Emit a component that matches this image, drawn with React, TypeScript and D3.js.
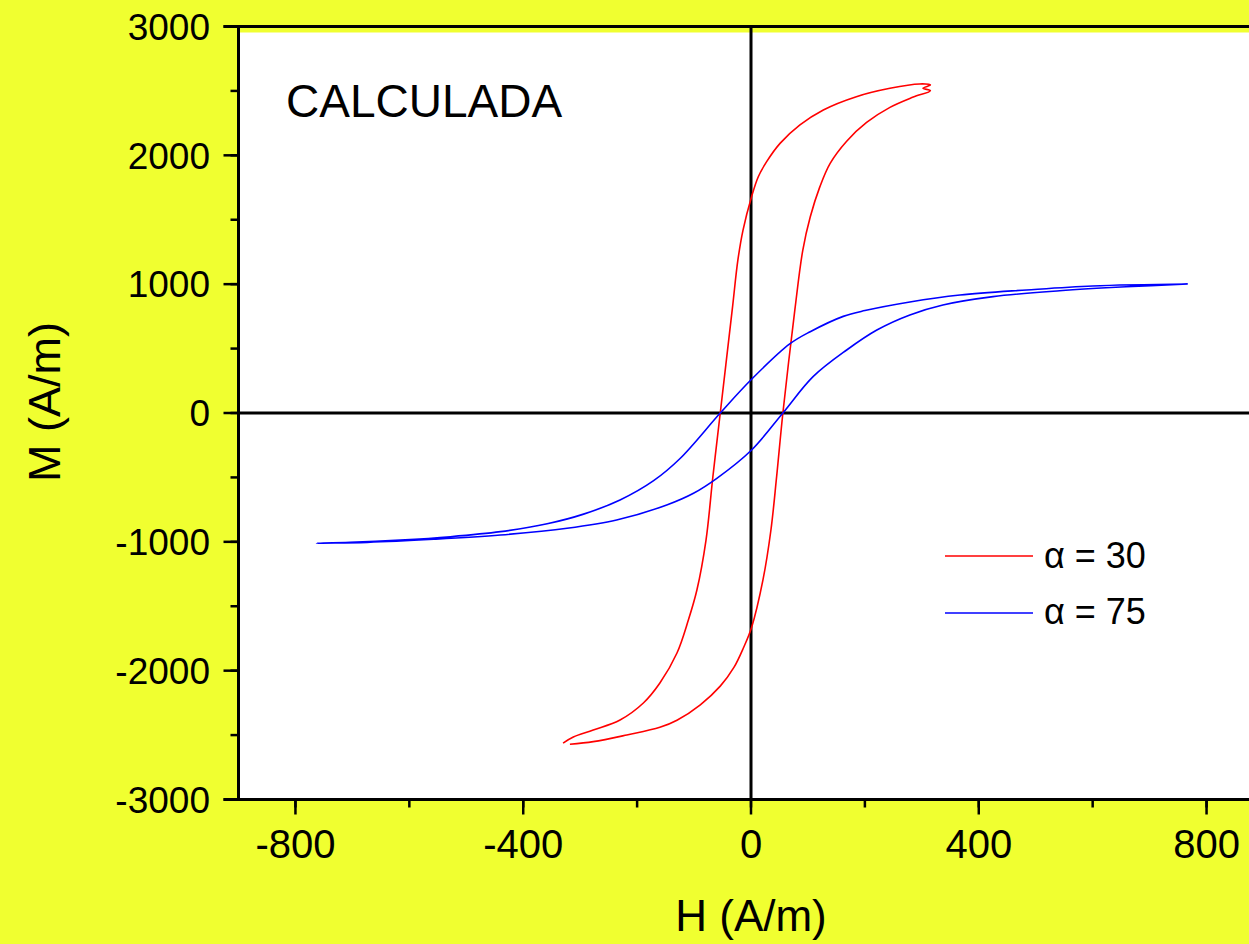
import React from "react";
import * as d3 from "d3";

// Field axis (H) and magnetisation axis (M) tick values
const hTicks = [-800, -400, 0, 400, 800];
const hMinorTicks = [-800, -600, -400, -200, 0, 200, 400, 600, 800];
const mTicks = [3000, 2000, 1000, 0, -1000, -2000, -3000];
const mMinorTicks = [-3000, -2500, -2000, -1500, -1000, -500, 0, 500, 1000, 1500, 2000, 2500, 3000];

// Hysteresis loop, alpha = 30: descending branch (from +Hmax to -Hmax)
const red30Descending: [number, number][] = [
  [302, 2521], [315, 2546], [296, 2554], [244, 2520], [185, 2455], [127, 2352], [86, 2236],
  [51, 2093], [27.5, 1951], [12.8, 1834], [1, 1679], [-14, 1420], [-23, 1188],
  [-33, 800], [-54, 0], [-67, -497], [-79, -986], [-95, -1374],
  [-110, -1607], [-130, -1863], [-160, -2096], [-189, -2251], [-230, -2383],
  [-277, -2461], [-312, -2515], [-330, -2562],
];
// alpha = 30: ascending branch (from -Hmax to +Hmax)
const red30Ascending: [number, number][] = [
  [-318, -2571], [-277, -2551], [-218, -2499], [-160, -2440], [-130, -2385], [-89, -2265],
  [-54, -2120], [-30, -1975], [-13, -1820], [1, -1665], [21, -1296], [35, -908],
  [45, -494], [56, 0], [77, 800], [91, 1265], [104, 1521],
  [121, 1757], [139, 1938], [168, 2110], [203, 2255], [244, 2372], [285, 2452], [315, 2502],
];

// Hysteresis loop, alpha = 75
const blue75Descending: [number, number][] = [
  [767, 1001], [600, 986], [484, 955], [367, 916], [279, 862], [200, 795], [162, 750],
  [104, 631], [68, 536], [1, 262], [-54, 0], [-125, -355], [-171, -525], [-230, -675],
  [-294, -785], [-358, -860], [-440, -921], [-528, -960], [-616, -986], [-704, -1004],
  [-763, -1011],
];
const blue75Ascending: [number, number][] = [
  [-763, -1011], [-674, -1004], [-557, -980], [-440, -947], [-323, -895], [-236, -831],
  [-148, -714], [-101, -623], [-60, -507], [1, -287], [56, 0], [109, 282], [168, 489],
  [221, 644], [279, 761], [337, 838], [425, 903], [542, 949], [659, 980], [767, 1001],
];

const seriesLabels = ["\u03b1 = 30", "\u03b1 = 75"];
const seriesColors = ["#ff0000", "#0000ff"];

const W = 1249;
const H = 944;
const FONT = "'Liberation Sans', Arial, Helvetica, sans-serif";

export default function App() {
  const x = d3.scaleLinear().domain([-900, 900]).range([238.5, 1263.5]);
  const y = d3.scaleLinear().domain([-3000, 3000]).range([799.5, 26.5]);

  const line = d3
    .line<[number, number]>()
    .x((d) => x(d[0]))
    .y((d) => y(d[1]))
    .curve(d3.curveCatmullRom.alpha(0.5));

  const redLoop = [...red30Ascending, ...red30Descending];
  const blueLoop = [...blue75Descending, ...blue75Ascending.slice(1)];

  const left = x(-900);
  const right = x(900);
  const top = y(3000);
  const bottom = y(-3000);

  return (
    <svg
      width={W}
      height={H}
      style={{ position: "absolute", left: 0, top: 0, display: "block" }}
      fontFamily={FONT}
    >
      <rect x={0} y={0} width={W} height={H} fill="#f0ff30" />
      <rect x={left} y={top + 6} width={right - left} height={bottom - top - 6} fill="#ffffff" />

      {/* zero lines */}
      <line x1={x(0)} x2={x(0)} y1={top} y2={bottom} stroke="#000" strokeWidth={3} />
      <line x1={left} x2={right} y1={y(0)} y2={y(0)} stroke="#000" strokeWidth={3} />

      {/* curves */}
      <path d={line(redLoop) ?? ""} fill="none" stroke={seriesColors[0]} strokeWidth={1.6} />
      <path d={line(blueLoop) ?? ""} fill="none" stroke={seriesColors[1]} strokeWidth={1.6} />

      {/* frame */}
      <line x1={left - 15} x2={right} y1={top} y2={top} stroke="#000" strokeWidth={3} />
      <line x1={left - 15} x2={right} y1={bottom} y2={bottom} stroke="#000" strokeWidth={3} />
      <line x1={left} x2={left} y1={top} y2={bottom} stroke="#000" strokeWidth={3} />

      {/* y ticks */}
      {mMinorTicks.map((t) => (
        <line key={"ym" + t} x1={left - 8} x2={left} y1={y(t)} y2={y(t)} stroke="#000" strokeWidth={2.5} />
      ))}
      {mTicks.map((t) => (
        <g key={"y" + t}>
          <line x1={left - 15} x2={left} y1={y(t)} y2={y(t)} stroke="#000" strokeWidth={2.5} />
          <text x={210} y={y(t)} dy="0.36em" textAnchor="end" fontSize={37} fill="#000">
            {t}
          </text>
        </g>
      ))}

      {/* x ticks */}
      {hMinorTicks.map((t) => (
        <line key={"xm" + t} x1={x(t)} x2={x(t)} y1={bottom} y2={bottom + 8} stroke="#000" strokeWidth={2.5} />
      ))}
      {hTicks.map((t) => (
        <g key={"x" + t}>
          <line x1={x(t)} x2={x(t)} y1={bottom} y2={bottom + 15} stroke="#000" strokeWidth={2.5} />
          <text x={x(t)} y={858} textAnchor="middle" fontSize={40} fill="#000">
            {t}
          </text>
        </g>
      ))}

      {/* axis titles */}
      <text x={751} y={931} textAnchor="middle" fontSize={44} fill="#000">
        H (A/m)
      </text>
      <text transform="translate(60,402) rotate(-90)" textAnchor="middle" fontSize={45} fill="#000">
        M (A/m)
      </text>

      <text x={286} y={117} fontSize={46} fill="#000">
        CALCULADA
      </text>

      {/* legend */}
      {seriesLabels.map((lab, i) => (
        <g key={lab}>
          <line x1={945} x2={1033} y1={556 + i * 57} y2={556 + i * 57} stroke={seriesColors[i]} strokeWidth={1.6} />
          <text x={1044} y={568 + i * 56} fontSize={36} fill="#000">
            {lab}
          </text>
        </g>
      ))}
    </svg>
  );
}
